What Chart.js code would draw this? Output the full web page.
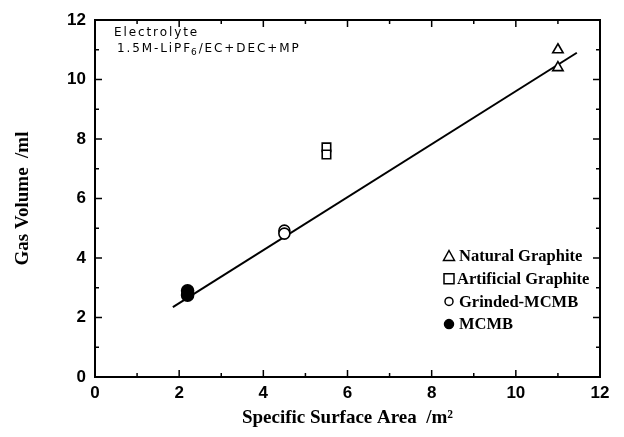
<!DOCTYPE html>
<html><head><meta charset="utf-8">
<script src="https://cdn.jsdelivr.net/npm/chart.js@4/dist/chart.umd.min.js"></script>
<style>html,body{margin:0;padding:0;background:#fff}#w{width:624px;height:437px}</style>
</head><body><div id="w"><canvas id="c" width="624" height="437"></canvas></div>
<script>
const seriesNames = ["Natural Graphite", "Artificial Graphite", "Grinded-MCMB", "MCMB"];
const naturalX = [11.0, 11.0];
const naturalY = [11.0, 10.4];
const artificialX = [5.5, 5.5];
const artificialY = [7.72, 7.48];
const grindedX = [4.5, 4.5];
const grindedY = [4.92, 4.82];
const mcmbX = [2.2, 2.2];
const mcmbY = [2.9, 2.75];
const fitX = [1.85, 11.45];
const fitY = [2.35, 10.9];
const xTicks = [0, 2, 4, 6, 8, 10, 12];
const yTicks = [0, 2, 4, 6, 8, 10, 12];
const noteLines = ["Electrolyte", "1.5M-LiPF", "6", "/EC+DEC+MP"];

const pts = (xs, ys) => xs.map((x, i) => ({x, y: ys[i]}));

const serif = "'Liberation Serif', 'Times New Roman', serif";
const sans = "'Liberation Sans', Arial, sans-serif";

const styles = [
  {pointStyle: 'triangle', radius: 6, fill: false},
  {pointStyle: 'rect', radius: 6, fill: false},
  {pointStyle: 'circle', radius: 5.5, fill: false},
  {pointStyle: 'circle', radius: 6, fill: true}
];
const seriesData = [pts(naturalX, naturalY), pts(artificialX, artificialY), pts(grindedX, grindedY), pts(mcmbX, mcmbY)];

const datasets = seriesNames.map((n, i) => ({
  label: n,
  data: seriesData[i],
  pointStyle: styles[i].pointStyle,
  pointRadius: styles[i].radius,
  pointBorderWidth: 1.6,
  pointBorderColor: '#000',
  pointBackgroundColor: styles[i].fill ? '#000' : '#fff',
  showLine: false
}));
datasets.push({
  label: 'fit',
  data: pts(fitX, fitY),
  showLine: true,
  borderColor: '#000',
  borderWidth: 2,
  pointRadius: 0,
  order: 10
});

const decor = {
  id: 'decor',
  afterDraw(chart) {
    const ctx = chart.ctx, a = chart.chartArea;
    const xs = chart.scales.x, ys = chart.scales.y;
    ctx.save();
    ctx.strokeStyle = '#000';
    ctx.lineWidth = 2;
    ctx.strokeRect(a.left, a.top, a.right - a.left, a.bottom - a.top);
    ctx.lineWidth = 1.5;
    for (let v = 0; v <= 12; v += 1) {
      const len = v % 2 === 0 ? 7 : 4;
      const px = xs.getPixelForValue(v);
      ctx.beginPath(); ctx.moveTo(px, a.bottom); ctx.lineTo(px, a.bottom - len); ctx.stroke();
      ctx.beginPath(); ctx.moveTo(px, a.top); ctx.lineTo(px, a.top + len); ctx.stroke();
      const py = ys.getPixelForValue(v);
      ctx.beginPath(); ctx.moveTo(a.left, py); ctx.lineTo(a.left + len, py); ctx.stroke();
      ctx.beginPath(); ctx.moveTo(a.right, py); ctx.lineTo(a.right - len, py); ctx.stroke();
    }
    // note
    ctx.fillStyle = '#000';
    ctx.textBaseline = 'middle';
    ctx.textAlign = 'left';
    ctx.letterSpacing = '1.9px';
    ctx.font = "12px 'DejaVu Sans', sans-serif";
    ctx.fillText(noteLines[0], 114, 33);
    let x = 117;
    ctx.fillText(noteLines[1], x, 49);
    x += ctx.measureText(noteLines[1]).width;
    ctx.font = "9px 'DejaVu Sans', sans-serif";
    ctx.fillText(noteLines[2], x - 1, 53);
    x += ctx.measureText(noteLines[2]).width;
    ctx.font = "12px 'DejaVu Sans', sans-serif";
    ctx.fillText(noteLines[3], x - 1, 49);
    ctx.letterSpacing = '0px';
    // legend
    ctx.font = "bold 16.5px " + serif;
    const lx = 449, ly0 = 256, dy = 22.7;
    seriesNames.forEach((n, i) => {
      const y = ly0 + i * dy;
      const st = styles[i];
      ctx.lineWidth = 1.5;
      ctx.strokeStyle = '#000';
      ctx.fillStyle = st.fill ? '#000' : '#fff';
      ctx.beginPath();
      if (st.pointStyle === 'circle') { ctx.arc(lx, y, st.radius - 1.5, 0, Math.PI * 2); }
      else if (st.pointStyle === 'rect') { ctx.rect(lx - 5, y - 5, 10, 10); }
      else { ctx.moveTo(lx, y - 5.5); ctx.lineTo(lx + 5.5, y + 4.5); ctx.lineTo(lx - 5.5, y + 4.5); ctx.closePath(); }
      ctx.fill(); ctx.stroke();
      ctx.fillStyle = '#000';
      ctx.fillText(n, lx + (i === 1 ? 8 : 10), y + 1);
    });
    ctx.restore();
  }
};

new Chart(document.getElementById('c'), {
  type: 'scatter',
  data: {datasets},
  options: {
    responsive: false,
    animation: false,
    devicePixelRatio: 1,
    layout: {padding: {left: 12, right: 24, top: 20, bottom: 0}},
    plugins: {legend: {display: false}, tooltip: {enabled: false}},
    scales: {
      x: {
        type: 'linear', min: 0, max: 12,
        afterBuildTicks: s => { s.ticks = xTicks.map(v => ({value: v})); },
        afterFit: s => { s.height = 60; },
        grid: {display: false, drawTicks: false},
        border: {display: false},
        ticks: {color: '#000', padding: 6, font: {family: sans, size: 17, weight: 'bold'}},
        title: {display: true, text: 'Specific Surface Area  /m²', color: '#000', padding: {top: 0, bottom: 8}, font: {family: serif, size: 19, weight: 'bold'}}
      },
      y: {
        type: 'linear', min: 0, max: 12,
        afterBuildTicks: s => { s.ticks = yTicks.map(v => ({value: v})); },
        afterFit: s => { s.width = 83; },
        grid: {display: false, drawTicks: false},
        border: {display: false},
        ticks: {color: '#000', padding: 9, font: {family: sans, size: 17, weight: 'bold'}},
        title: {display: true, text: 'Gas Volume  /ml', color: '#000', padding: {top: 0, bottom: 4}, font: {family: serif, size: 19, weight: 'bold'}}
      }
    }
  },
  plugins: [decor]
});
</script>
</body></html>
